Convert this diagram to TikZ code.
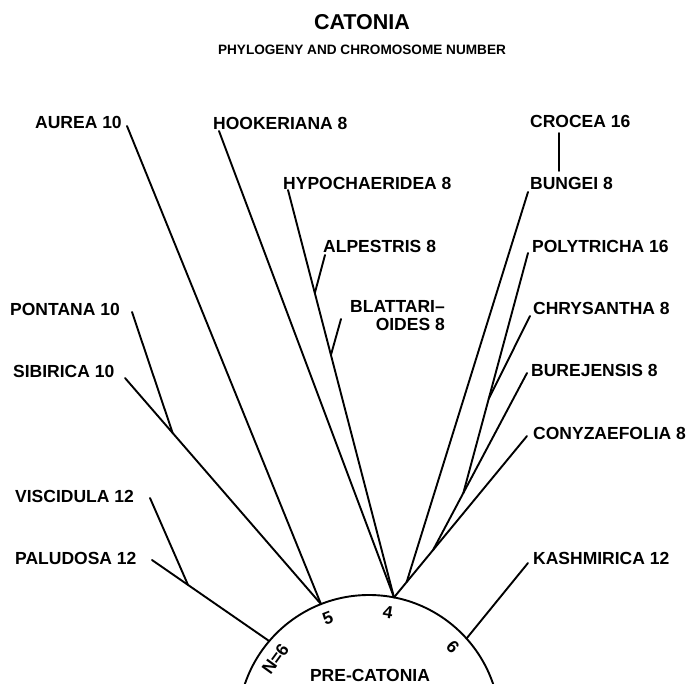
\documentclass[tikz,border=0pt]{standalone}
\usepackage{fontspec}
\setmainfont{Liberation Sans}
\usetikzlibrary{calc}
\begin{document}
\begin{tikzpicture}[x=1pt,y=1pt,
  lbl/.style={font=\bfseries\fontsize{17.5}{18}\selectfont, anchor=west, inner sep=0pt},
  branch/.style={line width=1.9pt, line cap=round, line join=round},
  arcnum/.style={font=\bfseries\fontsize{17.5}{18}\selectfont, inner sep=0pt}]
\useasboundingbox (0,0) rectangle (695,-684);
\fill[white] (0,0) rectangle (695,-684);

% titles
\node[font=\bfseries\fontsize{21.5}{22}\selectfont, inner sep=0pt] (title) at (362,-22) {CATONIA};
\node[font=\bfseries\fontsize{13.6}{14}\selectfont, inner sep=0pt] (subtitle) at (362,-50) {PHYLOGENY AND CHROMOSOME NUMBER};

% species labels
\node[lbl] (aurea) at (35,-122.5) {AUREA 10};
\node[lbl] (hook) at (213,-123.5) {HOOKERIANA 8};
\node[lbl] (hypo) at (283,-183.5) {HYPOCHAERIDEA 8};
\node[lbl] (alp) at (323,-246) {ALPESTRIS 8};
\node[lbl, align=right, anchor=north east] (blat) at (445,-300) {BLATTARI–\\OIDES 8};
\node[lbl] (pont) at (10,-309) {PONTANA 10};
\node[lbl] (sib) at (13,-371.5) {SIBIRICA 10};
\node[lbl] (visc) at (15,-496.5) {VISCIDULA 12};
\node[lbl] (palu) at (15,-558.5) {PALUDOSA 12};
\node[lbl] (croc) at (530,-121) {CROCEA 16};
\node[lbl] (bung) at (530,-183.5) {BUNGEI 8};
\node[lbl] (poly) at (532,-246) {POLYTRICHA 16};
\node[lbl] (chry) at (533,-308.5) {CHRYSANTHA 8};
\node[lbl] (bure) at (531,-370) {BUREJENSIS 8};
\node[lbl] (cony) at (533,-433.5) {CONYZAEFOLIA 8};
\node[lbl] (kash) at (533,-558.5) {KASHMIRICA 12};

% ancestral circle
\coordinate (C) at (369,-726);
\begin{scope}
  \clip (0,0) rectangle (695,-684);
  \draw[branch] (C) circle[radius=131];
\end{scope}
\coordinate (p6L) at ($(C)+(139.6:131)$);
\coordinate (p5) at ($(C)+(111.5:131)$);
\coordinate (p4) at ($(C)+(79:131)$);
\coordinate (p6R) at ($(C)+(41.9:131)$);

\node[arcnum, rotate=54] (nN) at ($(C)+(144.5:115)$) {N=6};
\node[arcnum, rotate=21] (n5) at ($(C)+(111:115)$) {5};
\node[arcnum, rotate=-9.5] (n4) at ($(C)+(80.5:115)$) {4};
\node[arcnum, rotate=-47] (n6) at ($(C)+(43.2:115)$) {6};
\node[arcnum] (pre) at (370,-675) {PRE-CATONIA};

% branch tips
\coordinate (tAurea) at (127,-126);
\coordinate (tHook) at (219,-131);
\coordinate (tHypo) at (288,-190);
\coordinate (tAlp) at (325,-255);
\coordinate (tBlat) at (341,-319);
\coordinate (tPont) at (132,-312);
\coordinate (tSib) at (125,-378);
\coordinate (tVisc) at (150,-498);
\coordinate (tPalu) at (152,-560);
\coordinate (tCrocTop) at (559,-133);
\coordinate (tCrocBot) at (559,-171);
\coordinate (tBung) at (528,-192);
\coordinate (tPoly) at (528,-253);
\coordinate (tChry) at (530,-316);
\coordinate (tBure) at (527,-373);
\coordinate (tCony) at (527,-436);
\coordinate (tKash) at (528,-563);

% junctions
\coordinate (jAlp) at ($(tHypo)!0.253!(p4)$);
\coordinate (jBlat) at ($(tHypo)!0.405!(p4)$);
\coordinate (jPont) at ($(tSib)!0.243!(p5)$);
\coordinate (jVisc) at ($(tPalu)!0.307!(p6L)$);
\coordinate (j1) at ($(tCony)!0.905!(p4)$);
\coordinate (j2) at ($(tCony)!0.706!(p4)$);
\coordinate (j3) at ($(tBure)!0.678!(j2)$);
\coordinate (j4) at ($(tPoly)!0.608!(j3)$);

% left group
\draw[branch] (tAurea) -- (p5);
\draw[branch] (tSib) -- (p5);
\draw[branch] (tPont) -- (jPont);
\draw[branch] (tPalu) -- (p6L);
\draw[branch] (tVisc) -- (jVisc);
% middle group
\draw[branch] (tHook) -- (p4);
\draw[branch] (tHypo) -- (p4);
\draw[branch] (tAlp) -- (jAlp);
\draw[branch] (tBlat) -- (jBlat);
% right group
\draw[branch] (tCrocTop) -- (tCrocBot);
\draw[branch] (tCony) -- (p4);
\draw[branch] (tBung) -- (j1);
\draw[branch] (tBure) -- (j2);
\draw[branch] (tPoly) -- (j3);
\draw[branch] (tChry) -- (j4);
\draw[branch] (tKash) -- (p6R);
\end{tikzpicture}
\end{document}
